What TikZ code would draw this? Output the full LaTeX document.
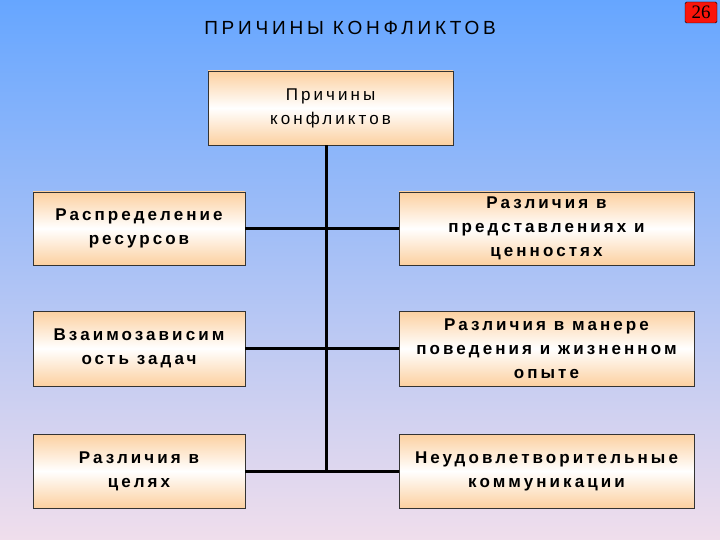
\documentclass[tikz,border=0pt]{standalone}
\usepackage{fontspec}
\setmainfont{Liberation Sans}
\newfontfamily\serifnum{Liberation Serif}
\newfontfamily\wide[LetterSpace=18]{Liberation Sans}
\newfontfamily\widetitle[LetterSpace=20]{Liberation Sans}
\definecolor{bgtop}{RGB}{102,166,255}
\definecolor{bgbot}{RGB}{240,222,236}
\definecolor{peach}{RGB}{252,208,160}
\definecolor{badge}{RGB}{250,20,10}
\begin{document}
\begin{tikzpicture}[x=1pt,y=-1pt,
  box/.style={draw=black!80,line width=0.8pt,top color=peach,bottom color=peach,middle color=white,
    align=center,font=\wide\bfseries\fontsize{17}{24}\selectfont,inner sep=2pt},
  link/.style={line width=3pt,black}]
\shade[top color=bgtop,bottom color=bgbot] (0,0) rectangle (720,540);
\useasboundingbox (0,0) rectangle (720,540);
\node[font=\widetitle\fontsize{19}{20}\selectfont] (title) at (350,28) {ПРИЧИНЫ КОНФЛИКТОВ};
\node[draw=black,fill=badge,rounded corners=1.5pt,minimum width=32pt,minimum height=21pt,inner sep=0pt,font=\serifnum\fontsize{19}{20}\selectfont] (num) at (701,12.5) {26};
\node[box,font=\wide\fontsize{17}{24}\selectfont,minimum width=245pt,minimum height=74pt] (top) at (330.5,108) {Причины\\конфликтов};
\foreach \n/\y in {1/228.5,2/348.5,3/471}{
  \coordinate (t\n) at (326,\y);}
\node[box,minimum width=212pt,minimum height=73pt] (l1) at (139,228.5) {Распределение\\ресурсов};
\node[box,minimum width=212pt,minimum height=75pt] (l2) at (139,348.5) {Взаимозависим\\ость задач};
\node[box,minimum width=212pt,minimum height=74pt] (l3) at (139,471) {Различия в\\целях};
\node[box,minimum width=295pt,minimum height=73pt] (r1) at (546.5,228.5) {Различия в\\представлениях и\\ценностях};
\node[box,minimum width=295pt,minimum height=75pt] (r2) at (546.5,348.5) {Различия в манере\\поведения и жизненном\\опыте};
\node[box,minimum width=295pt,minimum height=74pt] (r3) at (546.5,471) {Неудовлетворительные\\коммуникации};
\draw[link] (top.south -| t3) -- (t3);
\foreach \n in {1,2,3}{\draw[link] (l\n.east) -- (r\n.west);}
\end{tikzpicture}
\end{document}
